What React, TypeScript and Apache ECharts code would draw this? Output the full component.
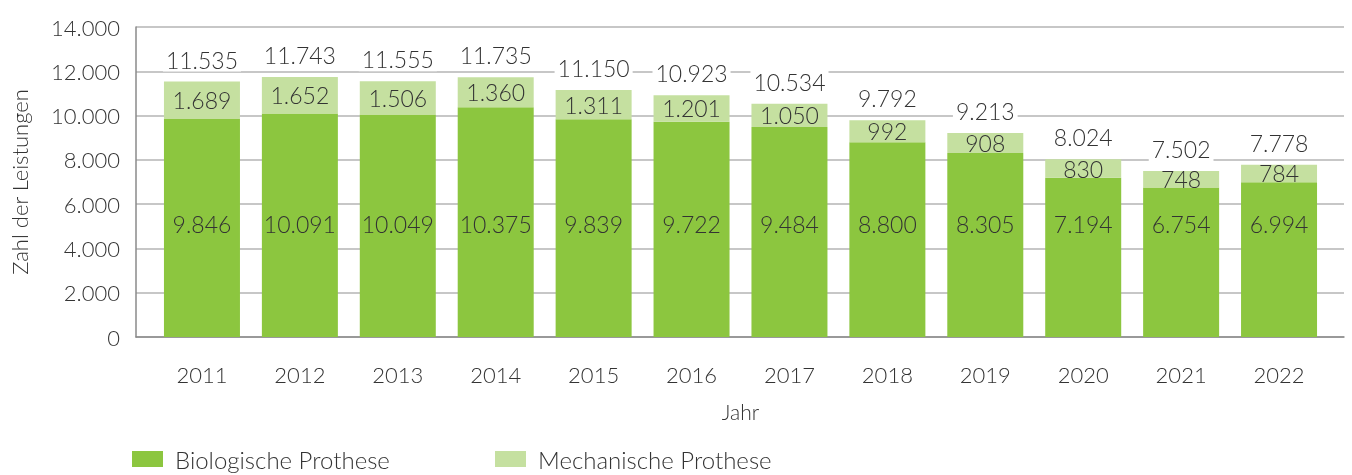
import React, { useEffect, useRef } from "react";
import * as echarts from "echarts";

const years = ["2011", "2012", "2013", "2014", "2015", "2016", "2017", "2018", "2019", "2020", "2021", "2022"];
const biologisch = [9846, 10091, 10049, 10375, 9839, 9722, 9484, 8800, 8305, 7194, 6754, 6994];
const mechanisch = [1689, 1652, 1506, 1360, 1311, 1201, 1050, 992, 908, 830, 748, 784];
const gesamt = [11535, 11743, 11555, 11735, 11150, 10923, 10534, 9792, 9213, 8024, 7502, 7778];

const FONT = "Lato";
const FW = 300;
const TXT = "#333333";
const DARK = "#8cc63f";
const LIGHT = "#c5e0a0";

const fmt = (v: number) => String(v).replace(/\B(?=(\d{3})+(?!\d))/g, ".");

export default function App() {
  const ref = useRef<HTMLDivElement>(null);
  useEffect(() => {
    const chart = echarts.init(ref.current!, null, { renderer: "svg" });
    const lt = { fontFamily: FONT, fontWeight: FW, color: TXT };
    chart.setOption({
      animation: false,
      textStyle: { fontFamily: FONT, color: TXT },
      grid: [
        { left: 133, right: 8, top: 27, bottom: 138 },
        { left: 153, right: 24, top: 27, bottom: 138 },
      ],
      legend: [
        {
          left: 132, top: 447, padding: 0, itemWidth: 31, itemHeight: 16, icon: "rect",
          data: ["Biologische Prothese"],
          textStyle: { ...lt, fontSize: 24, lineHeight: 24, padding: [0, 0, 0, 7] },
        },
        {
          left: 495, top: 447, padding: 0, itemWidth: 31, itemHeight: 16, icon: "rect",
          data: ["Mechanische Prothese"],
          textStyle: { ...lt, fontSize: 24, lineHeight: 24, padding: [0, 0, 0, 7] },
        },
      ],
      xAxis: [
        {
          type: "value", gridIndex: 0, min: 0, max: 1,
          axisLine: { show: true, onZero: false, lineStyle: { color: "#8a8a8a", width: 1.5 } },
          axisTick: { show: false }, axisLabel: { show: false }, splitLine: { show: false },
        },
        {
          type: "category", gridIndex: 1, data: years,
          axisLine: { show: false }, axisTick: { show: false },
          axisLabel: { ...lt, margin: 26, fontSize: 22 },
          name: "Jahr", nameLocation: "middle", nameGap: 64,
          nameTextStyle: { ...lt, fontSize: 21 },
        },
      ],
      yAxis: [
        {
          type: "value", gridIndex: 0, min: 0, max: 14000, interval: 2000,
          axisLine: { show: true, lineStyle: { color: "#8a8a8a", width: 1.5 } },
          axisTick: { show: false },
          axisLabel: { ...lt, margin: 16, fontSize: 22, formatter: (v: number) => fmt(v) },
          splitLine: { show: true, lineStyle: { color: "#b4b4b4", width: 1.5 } },
          name: "Zahl der Leistungen", nameLocation: "middle", nameGap: 106,
          nameTextStyle: { ...lt, fontSize: 22 },
        },
        {
          type: "value", gridIndex: 1, min: 0, max: 14000, interval: 2000, show: false,
          splitLine: { show: false },
        },
      ],
      series: [
        {
          name: "Biologische Prothese", type: "bar", stack: "s", xAxisIndex: 1, yAxisIndex: 1,
          barWidth: 76, data: biologisch, itemStyle: { color: DARK },
          label: {
            show: true, position: "insideBottom", distance: 101, fontSize: 23, lineHeight: 24,
            ...lt, formatter: (p: any) => fmt(p.value),
          },
        },
        {
          name: "Mechanische Prothese", type: "bar", stack: "s", xAxisIndex: 1, yAxisIndex: 1,
          barWidth: 76, data: mechanisch, itemStyle: { color: LIGHT },
          label: {
            show: true, position: "inside", fontSize: 23, lineHeight: 24,
            ...lt, formatter: (p: any) => fmt(p.value),
          },
        },
        {
          name: "Gesamt", type: "bar", stack: "s", xAxisIndex: 1, yAxisIndex: 1,
          barWidth: 76, data: gesamt.map(() => 0), itemStyle: { color: "transparent" },
          silent: true,
          label: {
            show: true, position: "top", distance: 10, fontSize: 23, lineHeight: 24,
            ...lt, backgroundColor: "#ffffff", padding: [0, 3],
            formatter: (p: any) => fmt(gesamt[p.dataIndex]),
          },
        },
      ],
    });
    return () => chart.dispose();
  }, []);
  return <div ref={ref} style={{ position: "fixed", left: 0, top: 0, width: 1352, height: 475 }} />;
}
